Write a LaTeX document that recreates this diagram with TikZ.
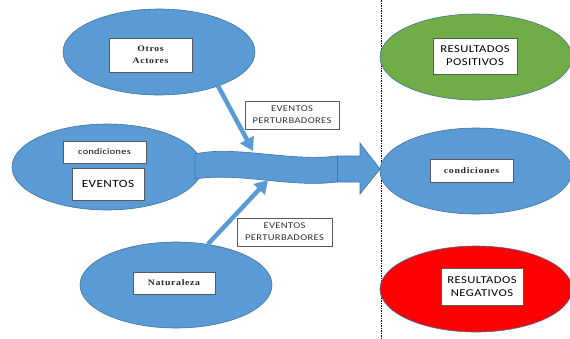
\documentclass[tikz,border=0pt]{standalone}
\usepackage{fontspec}
\usetikzlibrary{shapes.geometric,arrows.meta}
\newfontfamily\sfx[FakeStretch=1.2,LetterSpace=4]{Carlito}
\newfontfamily\rmx[FakeStretch=1.15,LetterSpace=8]{Liberation Serif}
\definecolor{office}{HTML}{5B9BD5}
\definecolor{officeline}{HTML}{41719C}
\definecolor{okgreen}{HTML}{70AD47}
\definecolor{badred}{HTML}{FF0000}
\definecolor{boxline}{HTML}{595959}
\begin{document}
\begin{tikzpicture}[x=1pt,y=-1pt,
  blob/.style={ellipse, draw=officeline, line width=0.6pt, fill=office,
    minimum width=192pt, minimum height=86pt, inner sep=0pt},
  tagbox/.style={draw=boxline, fill=white, line width=0.7pt, inner sep=0pt,
    align=center, text=black},
  sanstag/.style={tagbox, font=\sfx\fontsize{10.5}{13}\selectfont},
  seriftag/.style={tagbox, font=\rmx\bfseries\fontsize{8.5}{12}\selectfont, text=black!85},
  eventtag/.style={tagbox, font=\sfx\fontsize{8.8}{12}\selectfont, text=black!80},
  thinarrow/.style={draw=office, line width=4.5pt,
    -{Triangle[length=13pt,width=15pt]}},
  divider/.style={draw=black, line width=0.9pt, dash pattern=on 1.5pt off 1pt}
]
\useasboundingbox (0,0) rectangle (570,338);

% separator between causes and results
\coordinate (sepTop) at (381,0);
\coordinate (sepBot) at (381,338);
\draw[divider] (sepTop) -- (sepBot);

% left-hand ellipses
\node[blob] (otros) at (159,52) {};
\node[blob, minimum width=190pt] (cond) at (107,167) {};
\node[blob] (nat) at (176,285) {};

% right-hand ellipses
\node[blob] (condR) at (476,171) {};
\node[blob, fill=okgreen] (pos) at (476,57) {};
\node[blob, fill=badred] (neg) at (476,289) {};

% wavy flow arrow
\draw[fill=office, draw=officeline, line width=0.6pt]
  (195,154) .. controls (235,145) and (290,162) .. (337,156)
  -- (360,156) -- (360,143) -- (380,169) -- (360,194) -- (360,182)
  -- (337,182) .. controls (290,188) and (240,172) .. (195,179) -- cycle;
\draw[draw=officeline, line width=0.6pt] (337,156) -- (337,182);

% disturbing-event arrows
\coordinate (tipA) at (253,151);
\coordinate (tipB) at (268,180);
\draw[thinarrow] (otros.-30) -- (tipA);
\draw[thinarrow] (nat.52) -- (tipB);

% text boxes
\node[seriftag, minimum width=83pt, minimum height=34pt] (tOtros) at (150.5,55) {Otros\\Actores};
\node[sanstag, font=\sfx\fontsize{8.5}{10}\selectfont, minimum width=83pt, minimum height=22pt] (tCond) at (104.5,152) {condiciones};
\node[sanstag, font=\sfx\fontsize{11}{13}\selectfont, minimum width=72pt, minimum height=32pt] (tEv) at (108,184) {EVENTOS};
\node[seriftag, minimum width=82pt, minimum height=22pt] (tNat) at (174,283) {Naturaleza};
\node[eventtag, minimum width=94pt, minimum height=28pt] (tEpA) at (292,115) {EVENTOS\\PERTURBADORES};
\node[eventtag, minimum width=95pt, minimum height=28pt] (tEpB) at (284.5,232) {EVENTOS\\PERTURBADORES};
\node[sanstag, minimum width=84pt, minimum height=36pt] (tPos) at (475,56) {RESULTADOS\\POSITIVOS};
\node[seriftag, minimum width=83pt, minimum height=23pt] (tCondR) at (471.5,170.5) {condiciones};
\node[sanstag, minimum width=82pt, minimum height=37pt] (tNeg) at (482,286.5) {RESULTADOS\\NEGATIVOS};
\end{tikzpicture}
\end{document}
